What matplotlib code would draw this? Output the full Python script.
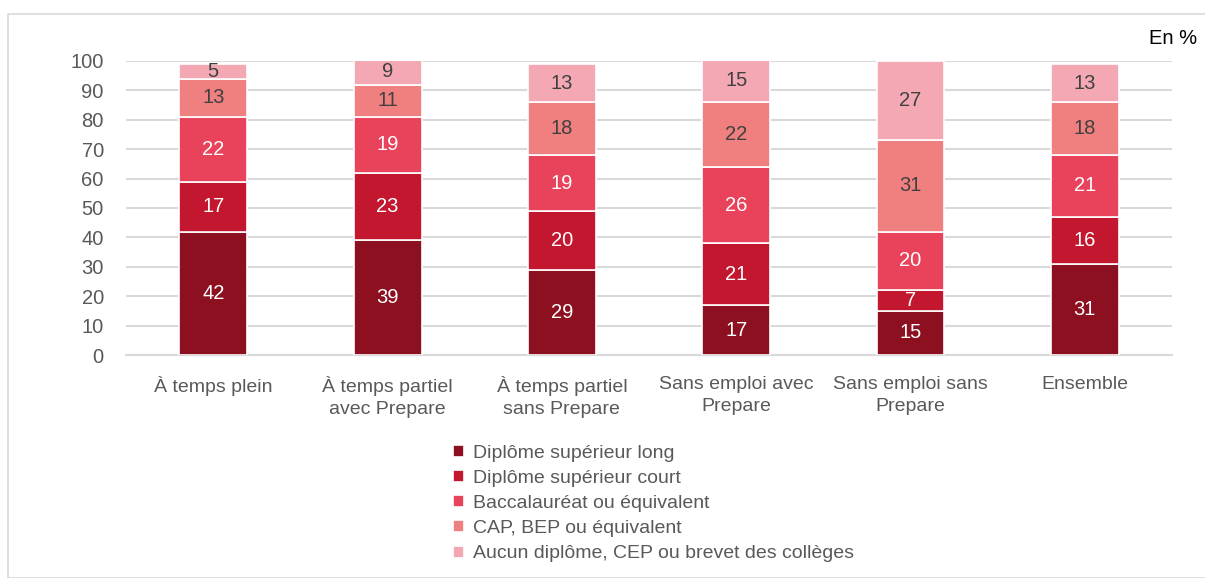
import matplotlib.pyplot as plt
import numpy as np
from matplotlib.patches import Rectangle

plt.rcParams['font.family'] = ['Liberation Sans', 'DejaVu Sans']

categories = ['À temps plein', 'À temps partiel\navec Prepare', 'À temps partiel\nsans Prepare',
              'Sans emploi avec\nPrepare', 'Sans emploi sans\nPrepare', 'Ensemble']
series_names = ['Diplôme supérieur long', 'Diplôme supérieur court', 'Baccalauréat ou équivalent',
                'CAP, BEP ou équivalent', 'Aucun diplôme, CEP ou brevet des collèges']
sup_long = [42, 39, 29, 17, 15, 31]
sup_court = [17, 23, 20, 21, 7, 16]
bac = [22, 19, 19, 26, 20, 21]
cap_bep = [13, 11, 18, 22, 31, 18]
aucun = [5, 9, 13, 15, 27, 13]

values = [sup_long, sup_court, bac, cap_bep, aucun]
colors = ['#8c1020', '#c3162f', '#e8435b', '#f07f80', '#f4a8b3']
text_colors = ['white', 'white', 'white', '#404040', '#404040']

fig = plt.figure(figsize=(12.05, 5.78), dpi=100)
ax = fig.add_axes([0.1046, 0.3858, 0.868, 0.5087])

# outer frame
fig.patches.append(Rectangle((8 / 1205, 0), 1.0, 1 - 14 / 578, transform=fig.transFigure,
                             fill=False, edgecolor='#d9d9d9', linewidth=1.2))

x = np.arange(len(categories))
bottom = np.zeros(len(categories))
for name, vals, col, tcol in zip(series_names, values, colors, text_colors):
    bars = ax.bar(x, vals, 0.39, bottom=bottom, color=col, edgecolor='white',
                  linewidth=1.2, label=name, zorder=3)
    for xi, b, v in zip(x, bottom, vals):
        ax.text(xi, b + v / 2, str(v), ha='center', va='center', fontsize=14.5,
                color=tcol, zorder=4)
    bottom += np.array(vals)

ax.set_xlim(-0.5, len(categories) - 0.5)
ax.set_ylim(0, 100)
ax.set_yticks(range(0, 101, 10))
ax.yaxis.grid(True, color='#d9d9d9', linewidth=1.5, zorder=0)
ax.set_axisbelow(True)
for s in ['top', 'right', 'left']:
    ax.spines[s].set_visible(False)
ax.spines['bottom'].set_color('#d9d9d9')
ax.spines['bottom'].set_linewidth(1.5)
ax.tick_params(axis='both', length=0, labelsize=14, colors='#595959', pad=15)
ax.tick_params(axis='y', labelsize=14.5, pad=16)
ax.set_xticks(x)
ax.set_xticklabels(categories, linespacing=1.42)

fig.text(1197 / 1205, 1 - 38 / 578, 'En %', ha='right', va='center', fontsize=14.5, color='black')

leg = fig.legend(loc='upper left', bbox_to_anchor=(445 / 1205, 1 - 437 / 578), frameon=False,
                 fontsize=14, handlelength=0.57, handleheight=0.57, handletextpad=0.45,
                 labelspacing=0.42, borderaxespad=0)
for t in leg.get_texts():
    t.set_color('#595959')

fig.savefig('out.png', dpi=100)
